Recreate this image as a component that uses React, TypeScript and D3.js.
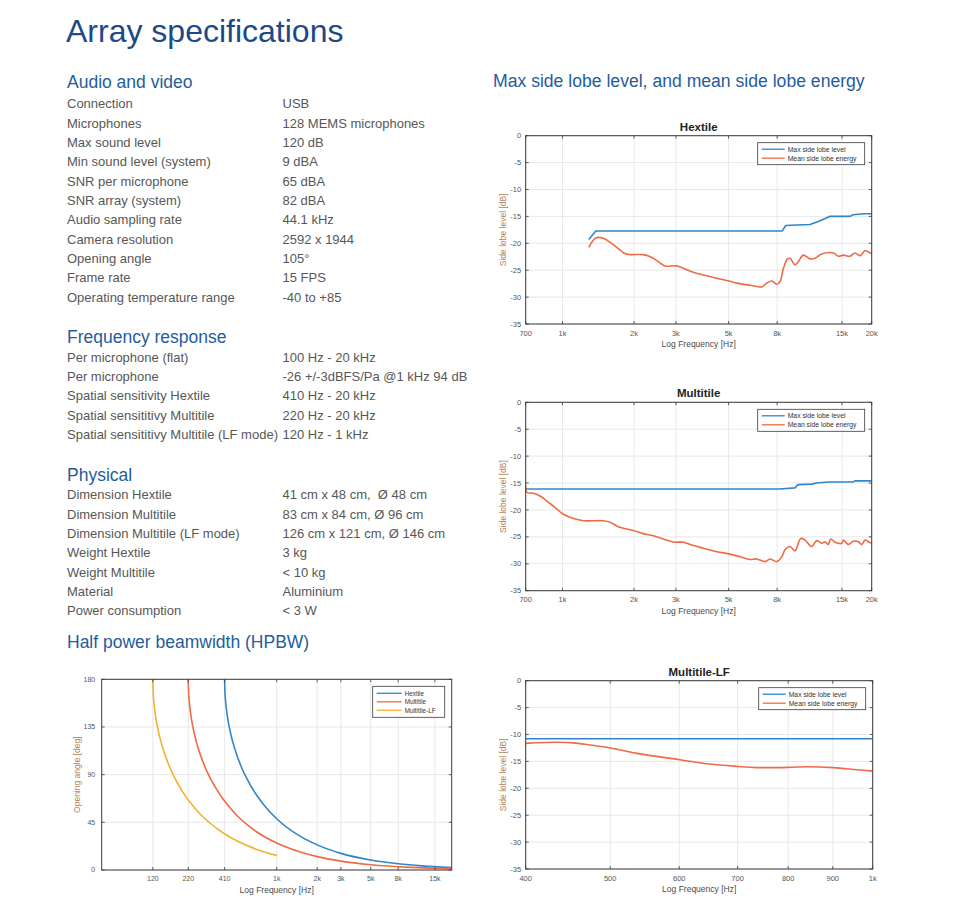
import React from 'react';
import * as d3 from 'd3';

const FONT = '"Liberation Sans", Arial, Helvetica, sans-serif';

// ---------- Spec table text ----------
const PAGE_TITLE = 'Array specifications';
const AUDIO_HEADING = 'Audio and video';
const AUDIO_LABELS = ['Connection', 'Microphones', 'Max sound level', 'Min sound level (system)', 'SNR per microphone', 'SNR array (system)', 'Audio sampling rate', 'Camera resolution', 'Opening angle', 'Frame rate', 'Operating temperature range'];
const AUDIO_VALUES = ['USB', '128 MEMS microphones', '120 dB', '9 dBA', '65 dBA', '82 dBA', '44.1 kHz', '2592 x 1944', '105°', '15 FPS', '-40 to +85'];
const FREQ_HEADING = 'Frequency response';
const FREQ_LABELS = ['Per microphone (flat)', 'Per microphone', 'Spatial sensitivity Hextile', 'Spatial sensititivy Multitile', 'Spatial sensititivy Multitile (LF mode)'];
const FREQ_VALUES = ['100 Hz - 20 kHz', '-26 +/-3dBFS/Pa @1 kHz 94 dB', '410 Hz - 20 kHz', '220 Hz - 20 kHz', '120 Hz - 1 kHz'];
const PHYS_HEADING = 'Physical';
const PHYS_LABELS = ['Dimension Hextile', 'Dimension Multitile', 'Dimension Multitile (LF mode)', 'Weight Hextile', 'Weight Multitile', 'Material', 'Power consumption'];
const PHYS_VALUES = ['41 cm x 48 cm,  Ø 48 cm', '83 cm x 84 cm, Ø 96 cm', '126 cm x 121 cm, Ø 146 cm', '3 kg', '< 10 kg', 'Aluminium', '< 3 W'];
const HPBW_HEADING = 'Half power beamwidth (HPBW)';
const SIDELOBE_HEADING = 'Max side lobe level, and mean side lobe energy';

// ---------- Side lobe charts ----------
const SL_Y_TICKS = [0, -5, -10, -15, -20, -25, -30, -35];
const SL_X_TICKS = [700, 1000, 2000, 3000, 5000, 8000, 15000, 20000];
const SL_X_LABELS = ['700', '1k', '2k', '3k', '5k', '8k', '15k', '20k'];
const LF_X_TICKS = [400, 500, 600, 700, 800, 900, 1000];
const LF_X_LABELS = ['400', '500', '600', '700', '800', '900', '1k'];
const SL_LEGEND = ['Max side lobe level', 'Mean side lobe energy'];

const HEX_MAX_F = [1290, 1380, 8400, 8700, 11000, 12000, 13300, 16200, 16700, 18500, 20000];
const HEX_MAX_DB = [-19.3, -17.7, -17.7, -16.7, -16.5, -15.9, -15.0, -15.0, -14.7, -14.5, -14.5];
const HEX_MEAN_F = [1290, 1380, 1490, 1640, 1830, 1920, 2190, 2340, 2530, 2700, 3020, 3170, 3550, 3920, 4460, 4910, 5410, 6150, 6890, 7230, 7590, 7970, 8230, 8500, 8840, 9070, 9510, 9830, 10300, 11000, 11550, 12300, 13800, 14500, 15200, 16200, 17000, 17900, 18750, 20000];
const HEX_MEAN_DB = [-20.75, -19.0, -19.1, -20.3, -21.9, -22.1, -22.1, -22.5, -23.4, -24.2, -24.2, -24.5, -25.4, -25.9, -26.5, -26.9, -27.4, -27.8, -28.1, -27.4, -27.0, -27.6, -27.1, -24.7, -22.9, -22.8, -24.0, -23.4, -22.2, -22.9, -22.8, -22.0, -21.8, -22.4, -22.2, -22.4, -21.8, -22.3, -21.4, -22.0];

const MULTI_MAX_F = [700, 8200, 9500, 9800, 11200, 11700, 13100, 16700, 17000, 20000];
const MULTI_MAX_DB = [-16.1, -16.1, -15.9, -15.3, -15.2, -15.0, -14.8, -14.8, -14.6, -14.6];
const MULTI_MEAN_F = [700, 707, 754, 804, 886, 945, 1008, 1111, 1224, 1486, 1585, 1718, 1803, 1987, 2189, 2412, 2657, 2928, 3225, 3553, 3915, 4455, 5069, 5585, 6152, 6564, 7114, 7469, 7966, 8364, 8636, 9065, 9514, 10050, 10490, 11180, 11740, 12320, 12730, 13140, 13450, 14020, 14960, 15200, 15950, 16750, 17580, 18150, 18750, 19370, 20000];
const MULTI_MEAN_DB = [-15.4, -16.7, -16.9, -17.4, -18.8, -19.8, -20.8, -21.6, -22.0, -22.0, -22.3, -23.1, -23.4, -23.8, -24.4, -24.8, -25.4, -25.96, -26.0, -26.6, -27.1, -27.75, -28.2, -28.7, -29.2, -29.1, -29.6, -29.1, -29.6, -28.7, -27.4, -26.8, -27.6, -25.3, -25.6, -26.8, -25.7, -26.2, -25.9, -26.4, -25.4, -26.0, -26.2, -25.6, -26.4, -25.8, -25.9, -26.4, -25.6, -25.9, -26.2];

const LF_MAX_F = [400, 1000];
const LF_MAX_DB = [-10.8, -10.8];
const LF_MEAN_F = [400, 434, 454, 474, 500, 541, 601, 645, 701, 736, 804, 840, 901, 959, 1000];
const LF_MEAN_DB = [-11.65, -11.45, -11.55, -11.95, -12.5, -13.6, -14.7, -15.45, -15.95, -16.15, -16.1, -16.0, -16.15, -16.55, -16.8];

// ---------- HPBW chart ----------
const BW_Y_TICKS = [0, 45, 90, 135, 180];
const BW_X_TICKS = [120, 220, 410, 1000, 2000, 3000, 5000, 8000, 15000];
const BW_X_LABELS = ['120', '220', '410', '1k', '2k', '3k', '5k', '8k', '15k'];
const BW_LEGEND = ['Hextile', 'Multitile', 'Multitile-LF'];
const HEX_BW_F = [410, 412, 415, 420, 440, 470, 500, 550, 600, 700, 800, 1000, 1500, 2000, 3000, 5000, 8000, 12000, 20000];
const HEX_BW = [180, 168.8, 162.3, 155, 137.4, 121.4, 110.2, 96.3, 86.2, 71.7, 61.7, 48.4, 31.7, 23.7, 15.7, 9.4, 5.9, 3.9, 2.35];
const MULTI_BW_F = [220, 221, 223, 225, 235, 250, 275, 300, 350, 400, 500, 700, 1000, 1500, 2000, 3000, 5000, 10000, 20000];
const MULTI_BW = [180, 169.1, 161.2, 155.8, 138.8, 123.2, 106.3, 94.3, 77.9, 66.7, 52.2, 36.6, 25.4, 16.9, 12.6, 8.4, 5.0, 2.5, 1.26];
const LF_BW_F = [120, 120.6, 121.6, 123, 128, 135, 150, 170, 200, 250, 300, 400, 500, 700, 1000];
const LF_BW = [180, 168.5, 161.4, 154.6, 139.3, 125.4, 106.3, 89.8, 73.7, 57.4, 47.2, 34.9, 27.8, 19.7, 13.8];

const BLUE = '#2f86cc';
const ORANGE = '#ef6a45';
const YELLOW = '#f0b232';

type Series = { f: number[]; v: number[]; color: string; curve: 'linear' | 'mono' | 'catmull' };

type PanelProps = {
  id: string;
  box: { x0: number; y0: number; x1: number; y1: number };
  xDomain: [number, number];
  xTicks: number[];
  xLabels: string[];
  yDomain: [number, number];
  yTicks: number[];
  title?: string;
  ylabel: string;
  series: Series[];
  legend: string[];
  legendColors: string[];
  legendBox: { w: number; h: number; rowH: number; first: number; lineW: number };
  yTickGap: number;
  yLabelOff: number;
  tickFont: number;
  legendFont: number;
};

function curveOf(c: Series['curve']) {
  if (c === 'mono') return d3.curveMonotoneX;
  if (c === 'catmull') return d3.curveCatmullRom.alpha(0.5);
  return d3.curveLinear;
}

function Panel(p: PanelProps) {
  const { x0, y0, x1, y1 } = p.box;
  const xs = d3.scaleLog().domain(p.xDomain).range([x0, x1]);
  const ys = d3.scaleLinear().domain(p.yDomain).range([y1, y0]);
  const clipId = `clip-${p.id}`;
  const lx = x1 - 7 - p.legendBox.w;
  const ly = y0 + 7;
  const tickLen = 3;
  return (
    <g fontFamily={FONT}>
      <defs>
        <clipPath id={clipId}>
          <rect x={x0} y={y0} width={x1 - x0} height={y1 - y0} />
        </clipPath>
      </defs>
      <rect x={x0} y={y0} width={x1 - x0} height={y1 - y0} fill="#ffffff" />
      {p.xTicks.map((t, i) => (
        <line key={'gx' + i} x1={xs(t)} x2={xs(t)} y1={y0} y2={y1} stroke="#e2e2e2" strokeWidth={0.8} />
      ))}
      {p.yTicks.map((t, i) => (
        <line key={'gy' + i} x1={x0} x2={x1} y1={ys(t)} y2={ys(t)} stroke="#e2e2e2" strokeWidth={0.8} />
      ))}
      <g clipPath={`url(#${clipId})`}>
        {p.series.map((s, i) => {
          const pts: [number, number][] = s.f.map((f, j) => [xs(f), ys(s.v[j])]);
          const gen = d3.line().curve(curveOf(s.curve));
          return <path key={'s' + i} d={gen(pts) || ''} fill="none" stroke={s.color} strokeWidth={1.6} strokeLinejoin="round" />;
        })}
      </g>
      <rect x={x0} y={y0} width={x1 - x0} height={y1 - y0} fill="none" stroke="#3a3a3a" strokeWidth={1} />
      {p.xTicks.map((t, i) => (
        <g key={'tx' + i}>
          <line x1={xs(t)} x2={xs(t)} y1={y1} y2={y1 - tickLen} stroke="#3a3a3a" strokeWidth={0.8} />
          <line x1={xs(t)} x2={xs(t)} y1={y0} y2={y0 + tickLen} stroke="#3a3a3a" strokeWidth={0.8} />
          <text x={xs(t)} y={y1 + 9} dy="0.35em" textAnchor="middle" fontSize={p.tickFont} fill="#555555">{p.xLabels[i]}</text>
        </g>
      ))}
      {p.yTicks.map((t, i) => (
        <g key={'ty' + i}>
          <line x1={x0} x2={x0 + tickLen} y1={ys(t)} y2={ys(t)} stroke="#3a3a3a" strokeWidth={0.8} />
          <line x1={x1} x2={x1 - tickLen} y1={ys(t)} y2={ys(t)} stroke="#3a3a3a" strokeWidth={0.8} />
          <text x={x0 - p.yTickGap} y={ys(t)} dy="0.35em" textAnchor="end" fontSize={p.tickFont} fill="#555555">{t}</text>
        </g>
      ))}
      {p.title ? (
        <text x={(x0 + x1) / 2} y={y0 - 5} textAnchor="middle" fontSize={11.5} fontWeight="bold" fill="#222222">{p.title}</text>
      ) : null}
      <text x={(x0 + x1) / 2} y={y1 + 20} dy="0.35em" textAnchor="middle" fontSize={8.5} fill="#4a4a4a">Log Frequency [Hz]</text>
      <text transform={`translate(${x0 - p.yLabelOff},${(y0 + y1) / 2}) rotate(-90)`} dy="0.35em" textAnchor="middle" fontSize={8.5} fill="#b5825c">{p.ylabel}</text>
      <rect x={lx} y={ly} width={p.legendBox.w} height={p.legendBox.h} fill="#ffffff" stroke="#3a3a3a" strokeWidth={0.8} />
      {p.legend.map((name, i) => {
        const ry = ly + p.legendBox.first + i * p.legendBox.rowH;
        return (
          <g key={'lg' + i}>
            <line x1={lx + 4} x2={lx + 4 + p.legendBox.lineW} y1={ry} y2={ry} stroke={p.legendColors[i]} strokeWidth={1.3} />
            <text x={lx + 7 + p.legendBox.lineW} y={ry} dy="0.35em" fontSize={p.legendFont} fill="#333333">{name}</text>
          </g>
        );
      })}
    </g>
  );
}

function SpecBlock({ heading, labels, values, hy, ry }: { heading: string; labels: string[]; values: string[]; hy: number; ry: number }) {
  return (
    <g fontFamily={FONT}>
      <text x={67} y={hy} fontSize={17.5} fill="#1f5d9c">{heading}</text>
      {labels.map((l, i) => (
        <g key={i}>
          <text x={67} y={ry + i * 19.33} fontSize={13} fill="#575757" style={{ whiteSpace: 'pre' }}>{l}</text>
          <text x={282.5} y={ry + i * 19.33} fontSize={13} fill="#575757" style={{ whiteSpace: 'pre' }}>{values[i]}</text>
        </g>
      ))}
    </g>
  );
}

export default function App() {
  const slLegendBox = { w: 107, h: 22, rowH: 9, first: 6.5, lineW: 23 };
  const slCommon = {
    xTicks: SL_X_TICKS,
    xLabels: SL_X_LABELS,
    yDomain: [-35, 0] as [number, number],
    yTicks: SL_Y_TICKS,
    ylabel: 'Side lobe level [dB]',
    legend: SL_LEGEND,
    legendColors: [BLUE, ORANGE],
    legendBox: slLegendBox,
    yTickGap: 4.5,
    yLabelOff: 23,
    tickFont: 7.5,
    legendFont: 6.8,
  };
  return (
    <div style={{ position: 'absolute', left: 0, top: 0 }}>
      <svg width={960} height={909} viewBox="0 0 960 909" style={{ display: 'block', background: '#ffffff' }}>
        <rect x={0} y={0} width={960} height={909} fill="#ffffff" />
        <text x={66} y={42} fontFamily={FONT} fontSize={32} fill="#1c4a87">{PAGE_TITLE}</text>
        <SpecBlock heading={AUDIO_HEADING} labels={AUDIO_LABELS} values={AUDIO_VALUES} hy={88.3} ry={108.3} />
        <SpecBlock heading={FREQ_HEADING} labels={FREQ_LABELS} values={FREQ_VALUES} hy={342.7} ry={361.7} />
        <SpecBlock heading={PHYS_HEADING} labels={PHYS_LABELS} values={PHYS_VALUES} hy={480.7} ry={499.3} />
        <text x={67} y={648.3} fontFamily={FONT} fontSize={17.5} fill="#1f5d9c">{HPBW_HEADING}</text>
        <text x={493} y={86.7} fontFamily={FONT} fontSize={17.6} fill="#1f5d9c">{SIDELOBE_HEADING}</text>

        <Panel
          id="hex"
          box={{ x0: 525.7, y0: 135.7, x1: 871.7, y1: 324 }}
          xDomain={[700, 20000]}
          title="Hextile"
          series={[
            { f: HEX_MAX_F, v: HEX_MAX_DB, color: BLUE, curve: 'linear' },
            { f: HEX_MEAN_F, v: HEX_MEAN_DB, color: ORANGE, curve: 'catmull' },
          ]}
          {...slCommon}
        />
        <Panel
          id="multi"
          box={{ x0: 525.7, y0: 402.3, x1: 871.7, y1: 590.7 }}
          xDomain={[700, 20000]}
          title="Multitile"
          series={[
            { f: MULTI_MAX_F, v: MULTI_MAX_DB, color: BLUE, curve: 'linear' },
            { f: MULTI_MEAN_F, v: MULTI_MEAN_DB, color: ORANGE, curve: 'catmull' },
          ]}
          {...slCommon}
        />
        <Panel
          id="lf"
          box={{ x0: 525.7, y0: 680.7, x1: 872.7, y1: 869 }}
          xDomain={[400, 1000]}
          title="Multitile-LF"
          series={[
            { f: LF_MAX_F, v: LF_MAX_DB, color: BLUE, curve: 'linear' },
            { f: LF_MEAN_F, v: LF_MEAN_DB, color: ORANGE, curve: 'catmull' },
          ]}
          {...slCommon}
          xTicks={LF_X_TICKS}
          xLabels={LF_X_LABELS}
        />
        <Panel
          id="hpbw"
          box={{ x0: 101.7, y0: 679.3, x1: 451.7, y1: 870 }}
          xDomain={[50, 20000]}
          xTicks={BW_X_TICKS}
          xLabels={BW_X_LABELS}
          yDomain={[0, 180]}
          yTicks={BW_Y_TICKS}
          ylabel="Opening angle [deg]"
          series={[
            { f: HEX_BW_F, v: HEX_BW, color: BLUE, curve: 'mono' },
            { f: MULTI_BW_F, v: MULTI_BW, color: ORANGE, curve: 'mono' },
            { f: LF_BW_F, v: LF_BW, color: YELLOW, curve: 'mono' },
          ]}
          legend={BW_LEGEND}
          legendColors={[BLUE, ORANGE, YELLOW]}
          legendBox={{ w: 72, h: 31, rowH: 8.5, first: 7, lineW: 25 }}
          yTickGap={6.5}
          yLabelOff={25}
          tickFont={7}
          legendFont={6.3}
        />
      </svg>
    </div>
  );
}
